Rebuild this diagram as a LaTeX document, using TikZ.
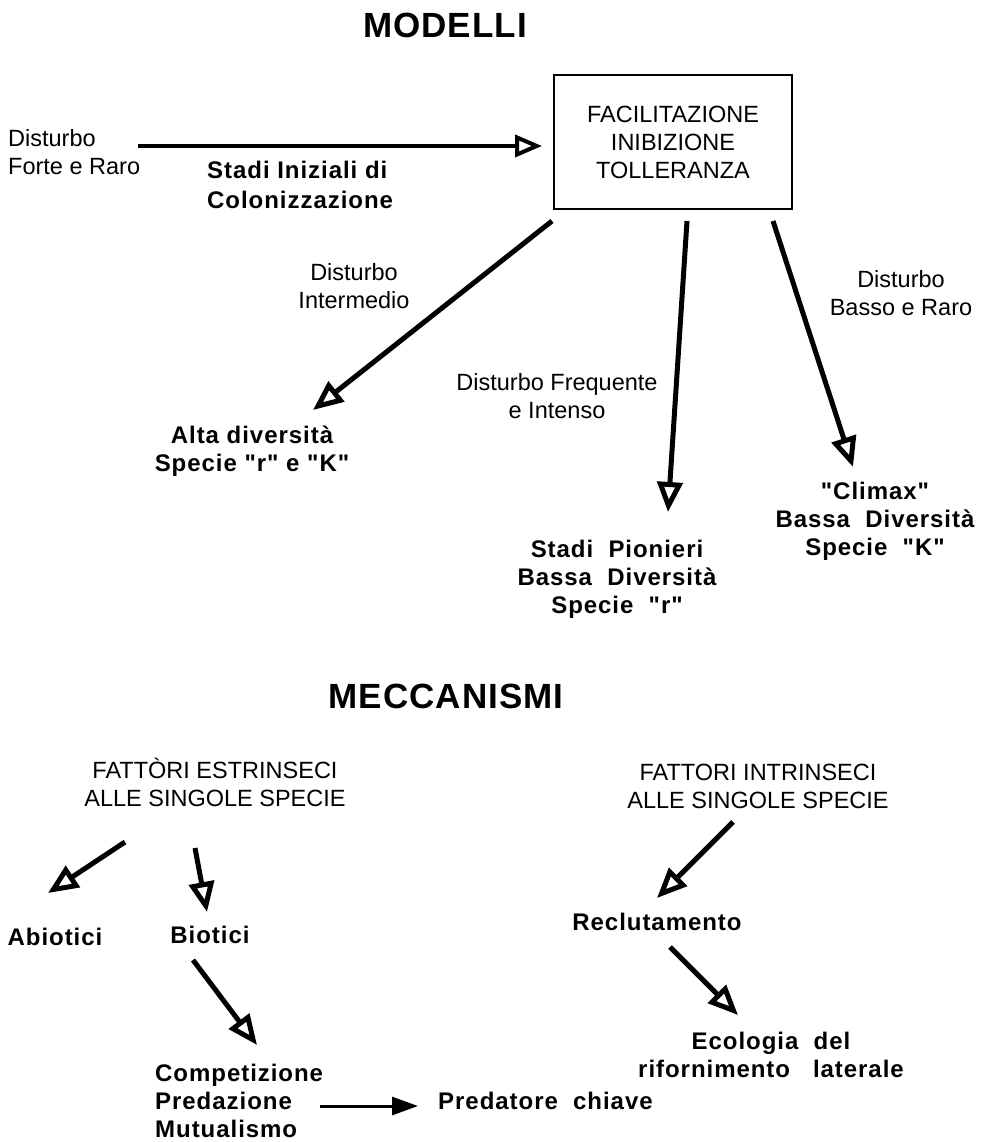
\documentclass[tikz,border=0pt]{standalone}
\usepackage{fontspec}
\setmainfont{Liberation Sans}
\newfontfamily\spaced{Liberation Sans}[LetterSpace=4]
\newfontfamily\titlefont{Liberation Sans}[LetterSpace=3]
\usetikzlibrary{arrows.meta}
\tikzset{
  nrm/.style={font=\fontsize{23.5}{28}\selectfont, align=center, inner sep=0pt},
  bld/.style={font=\spaced\bfseries\fontsize{24}{28}\selectfont, align=center, inner sep=0pt},
  ttl/.style={font=\titlefont\bfseries\fontsize{35}{40}\selectfont, inner sep=0pt},
  boxnode/.style={draw, line width=2pt, minimum width=238pt, minimum height=134pt, inner sep=0pt, align=center, font=\fontsize{23.5}{28}\selectfont},
  openarr/.style={line width=5pt, -{Triangle[open, length=30pt, width=25pt, line width=5pt]}},
  filledarr/.style={line width=3pt, -{Triangle[length=26pt, width=18pt]}}
}
\begin{document}
\begin{tikzpicture}[x=1pt,y=-1pt]
\useasboundingbox (0,0) rectangle (991,1142);
% titles
\node[ttl, anchor=base] (modelli) at (445,38) {MODELLI};
\node[ttl, anchor=base] (mecc) at (446,708) {MECCANISMI};
% top part
\node[boxnode] (box) at (673,142) {FACILITAZIONE\\INIBIZIONE\\TOLLERANZA};
\node[nrm, align=left, anchor=west] (dist1) at (8,152) {Disturbo\\Forte e Raro};
\node[bld, align=left, anchor=west] (stadi) at (207,185) {Stadi Iniziali di\\[2pt]Colonizzazione};
\node[nrm] (distint) at (354,286) {Disturbo\\Intermedio};
\node[bld] (alta) at (252,451) {Alta\ diversità\\Specie "r" e "K"};
\node[nrm] (distfreq) at (557,396) {Disturbo Frequente\\e Intenso};
\node[nrm] (distbasso) at (901,293) {Disturbo\\Basso e Raro};
\node[bld] (pion) at (617,579) {Stadi\ \ Pionieri\\Bassa\ \ Diversità\\Specie\ \ "r"};
\node[bld] (climax) at (875,521) {"Climax"\\Bassa\ \ Diversità\\Specie\ \ "K"};
% bottom part
\node[nrm] (estr) at (215,782) {FATTÒRI ESTRINSECI\\ALLE SINGOLE SPECIE};
\node[nrm] (intr) at (758,786) {FATTORI INTRINSECI\\ALLE SINGOLE SPECIE};
\node[bld] (abiotici) at (55,937) {Abiotici};
\node[bld] (biotici) at (210,935) {Biotici};
\node[bld] (recl) at (657,922) {Reclutamento};
\node[bld] (ecol) at (771,1055) {Ecologia\ \ del\\rifornimento\ \ \ laterale};
\node[bld, align=left, anchor=west] (comp) at (155,1101) {Competizione\\Predazione\\Mutualismo};
\node[bld, anchor=west] (pred) at (438,1101) {Predatore\ \ chiave};
% connectors
\draw[line width=4pt, -{Triangle[open, length=27pt, width=22pt, line width=4pt]}]
  ([shift={(130,-6)}]dist1.west) -- ([shift={(-11,4)}]box.west);
\draw[openarr] ([shift={(-1,11)}]box.south west) -- ([shift={(61,-41)}]alta.center);
\draw[openarr] ([shift={(14,11)}]box.south) -- ([shift={(51,-67)}]pion.center);
\draw[openarr] ([shift={(-20,11)}]box.south east) -- ([shift={(-22,-54)}]climax.center);
\draw[openarr] ([shift={(-90,60)}]estr.center) -- ([shift={(-7,-44)}]abiotici.center);
\draw[openarr] ([shift={(-20,66)}]estr.center) -- ([shift={(-3,-23)}]biotici.center);
\draw[openarr] ([shift={(-17,25)}]biotici.center) -- ([shift={(102,-56)}]comp.west);
\draw[filledarr] ([shift={(165,5)}]comp.west) -- ([shift={(-20,5)}]pred.west);
\draw[openarr] ([shift={(-25,36)}]intr.center) -- ([shift={(0,-24)}]recl.center);
\draw[openarr] ([shift={(13,25)}]recl.center) -- ([shift={(-33,-40)}]ecol.center);
\end{tikzpicture}
\end{document}
